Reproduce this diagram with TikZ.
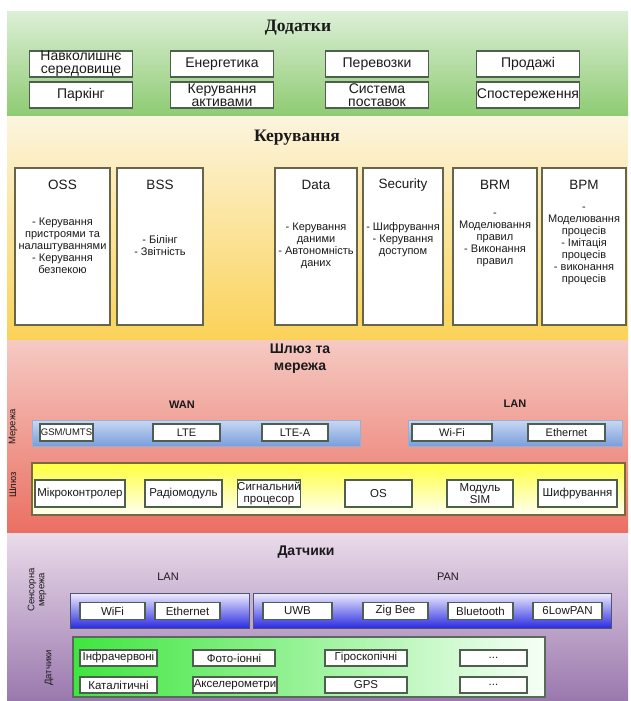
\documentclass[tikz,border=0pt]{standalone}
\usepackage{fontspec}
\setmainfont{Liberation Serif}
\setsansfont{Liberation Sans}
\definecolor{grT}{HTML}{DCEFD6}\definecolor{grB}{HTML}{8ECB72}
\definecolor{yeT}{HTML}{FCF5DE}\definecolor{yeB}{HTML}{FBD258}
\definecolor{rdT}{HTML}{F5CAC3}\definecolor{rdB}{HTML}{EB6F62}
\definecolor{puT}{HTML}{EADBEA}\definecolor{puB}{HTML}{9A78AE}
\definecolor{boxline}{HTML}{4F5F4F}
\definecolor{txt}{HTML}{1A1A1A}
\begin{document}
\begin{tikzpicture}[x=1pt,y=-1pt,
  box/.style={draw=boxline, line width=1.3pt, fill=white, inner sep=0pt, align=center, text=txt},
  appbox/.style={box, minimum width=103pt, minimum height=26pt, font=\sffamily\fontsize{14}{13}\selectfont},
  mgmtbox/.style={box, draw=boxline!80!brown, minimum height=157pt},
  mgmttitle/.style={text=txt, font=\sffamily\fontsize{13.5}{14}\selectfont},
  mgmtbody/.style={text=txt, align=center, inner sep=0pt, font=\sffamily\fontsize{11}{12}\selectfont},
  gwbox/.style={box, minimum height=27pt, font=\sffamily\fontsize{11.5}{12}\selectfont},
  netbox/.style={box, minimum height=17pt, font=\sffamily\fontsize{11}{12}\selectfont},
  senbox/.style={box, minimum height=17pt, font=\sffamily\fontsize{11.5}{12}\selectfont},
  sertitle/.style={text=txt, font=\rmfamily\bfseries\fontsize{17.5}{18}\selectfont},
  sanstitle/.style={text=txt, align=center, font=\sffamily\bfseries\fontsize{14}{17}\selectfont},
  grouplabel/.style={text=txt, font=\sffamily\bfseries\fontsize{11}{12}\selectfont},
  grouplabellight/.style={text=txt, font=\sffamily\fontsize{11}{12}\selectfont},
  sidelabel/.style={text=txt, rotate=90, align=center, font=\sffamily\fontsize{9.5}{10}\selectfont}
]
\useasboundingbox (0,0) rectangle (630,701);
\fill[white] (0,0) rectangle (630,701);

% ---------- layer bands ----------
\shade[top color=grT, bottom color=grB] (7,12) rectangle (628,116);
\shade[top color=yeT, bottom color=yeB] (7,116) rectangle (628,340);
\shade[top color=rdT, bottom color=rdB] (7,340) rectangle (628,533);
\shade[top color=puT, bottom color=puB] (7,533) rectangle (628,701);

% ---------- Додатки ----------
\node[sertitle] (tApps) at (298,28) {Додатки};
\node[appbox] (env)   at (81,64)  {Навколишнє\\середовище};
\node[appbox] (energy) at (222,64) {Енергетика};
\node[appbox] (transp) at (377,64) {Перевозки};
\node[appbox] (sales)  at (528,64) {Продажі};
\node[appbox] (park)   at (81,95)  {Паркінг};
\node[appbox] (assets) at (222,95) {Керування\\активами};
\node[appbox] (supply) at (377,95) {Система\\поставок};
\node[appbox] (watch)  at (528,95) {Спостереження};

% ---------- Керування ----------
\node[sertitle] (tMgmt) at (297,138) {Керування};
\node[mgmtbox, minimum width=95pt] (oss) at (62.5,246.5) {};
\node[mgmtbox, minimum width=86pt] (bss) at (160,246.5) {};
\node[mgmtbox, minimum width=82pt] (data) at (316,246.5) {};
\node[mgmtbox, minimum width=80pt] (sec) at (403,246.5) {};
\node[mgmtbox, minimum width=84pt] (brm) at (495,246.5) {};
\node[mgmtbox, minimum width=84pt] (bpm) at (584,246.5) {};
\node[mgmttitle] (ossT)  at (62.5,185) {OSS};
\node[mgmttitle] (bssT)  at (160,185)  {BSS};
\node[mgmttitle] (dataT) at (316,185)  {Data};
\node[mgmttitle] (secT)  at (403,185)  {Security};
\node[mgmttitle] (brmT)  at (495,185)  {BRM};
\node[mgmttitle] (bpmT)  at (584,185)  {BPM};
\node[mgmtbody] (ossB)  at (62.5,246) {- Керування\\пристроями та\\налаштуваннями\\- Керування\\безпекою};
\node[mgmtbody] (bssB)  at (160,246)  {- Білінг\\- Звітність};
\node[mgmtbody] (dataB) at (316,246)  {- Керування\\даними\\- Автономність\\даних};
\node[mgmtbody] (secB)  at (403,240)  {- Шифрування\\- Керування\\доступом};
\node[mgmtbody] (brmB)  at (495,240)  {-\\Моделювання\\правил\\- Виконання\\правил};
\node[mgmtbody] (bpmB)  at (584,246)  {-\\Моделювання\\процесів\\- Імітація\\процесів\\- виконання\\процесів};

% ---------- Шлюз та мережа ----------
\node[sanstitle] (tGw) at (300,359) {Шлюз та\\мережа};
\node[grouplabel] (wanL) at (182,405) {WAN};
\node[grouplabel] (lanL) at (515,404) {LAN};
\node[sidelabel] (netSide) at (13,427) {Мережа};
\node[sidelabel] (gwSide)  at (13,485) {Шлюз};
\shade[top color={rgb,255:red,200;green,216;blue,243}, bottom color={rgb,255:red,122;green,158;blue,220},
       draw={rgb,255:red,150;green,175;blue,215}] (32,420) rectangle (360,446);
\shade[top color={rgb,255:red,200;green,216;blue,243}, bottom color={rgb,255:red,122;green,158;blue,220},
       draw={rgb,255:red,150;green,175;blue,215}] (408,420) rectangle (622,446);
\node[netbox, minimum width=53pt, font=\sffamily\fontsize{9.5}{11}\selectfont] (gsm) at (66.5,432.5) {GSM/UMTS};
\node[netbox, minimum width=67pt] (lte)  at (186.5,432.5) {LTE};
\node[netbox, minimum width=66pt] (ltea) at (295,432.5)   {LTE-A};
\node[netbox, minimum width=80pt] (wifi) at (452,432.5)   {Wi-Fi};
\node[netbox, minimum width=77pt] (eth)  at (566.5,432.5) {Ethernet};
\shade[top color={rgb,255:red,255;green,255;blue,60}, bottom color={rgb,255:red,255;green,255;blue,244},
       draw={rgb,255:red,120;green,106;blue,60}, line width=1.2pt] (32,463) rectangle (625,515);
\node[gwbox, minimum width=90pt] (mcu)   at (80,493.5)    {Мікроконтролер};
\node[gwbox, minimum width=77pt] (radio) at (183.5,493.5) {Радіомодуль};
\node[gwbox, minimum width=58pt] (dsp)   at (269,493.5)   {Сигнальний\\процесор};
\node[gwbox, minimum width=67pt] (os)    at (378.5,493.5) {OS};
\node[gwbox, minimum width=66pt] (sim)   at (480,493.5)   {Модуль\\SIM};
\node[gwbox, minimum width=79pt] (crypt) at (577.5,493.5) {Шифрування};

% ---------- Датчики ----------
\node[sanstitle] (tSens) at (306,552) {Датчики};
\node[grouplabellight] (slan) at (168,577) {LAN};
\node[grouplabellight] (span) at (448,577) {PAN};
\node[sidelabel] (snetSide) at (37,590) {Сенсорна\\мережа};
\node[sidelabel] (sensSide) at (49,668) {Датчики};
\shade[top color={rgb,255:red,240;green,238;blue,255}, bottom color={rgb,255:red,43;green,43;blue,224},
       draw={rgb,255:red,80;green,84;blue,110}, line width=1pt] (70,593) rectangle (249,628);
\shade[top color={rgb,255:red,240;green,238;blue,255}, bottom color={rgb,255:red,43;green,43;blue,224},
       draw={rgb,255:red,80;green,84;blue,110}, line width=1pt] (253,593) rectangle (611,628);
\node[senbox, minimum width=65pt] (swifi) at (112.5,611) {WiFi};
\node[senbox, minimum width=65pt] (seth)  at (187.5,611) {Ethernet};
\node[senbox, minimum width=69pt] (uwb)   at (297.5,611) {UWB};
\node[senbox, minimum width=65pt] (zig)   at (395.5,611) {Zig Bee};
\node[senbox, minimum width=65pt] (bt)    at (480.5,611) {Bluetooth};
\node[senbox, minimum width=69pt] (lowpan) at (567.5,611) {6LowPAN};
\shade[left color={rgb,255:red,62;green,230;blue,62}, right color={rgb,255:red,246;green,255;blue,246},
       draw={rgb,255:red,90;green,106;blue,90}, line width=1.2pt] (73,637) rectangle (545,697);
\node[senbox, minimum height=16pt, minimum width=77pt] (ir)    at (118.5,658) {Інфрачервоні};
\node[senbox, minimum height=16pt, minimum width=82pt] (photo) at (234,658)   {Фото-іонні};
\node[senbox, minimum height=16pt, minimum width=82pt] (gyro)  at (366,658)   {Гіроскопічні};
\node[senbox, minimum height=16pt, minimum width=67pt] (moreA) at (493.5,658) {...};
\node[senbox, minimum height=16pt, minimum width=77pt] (cat)   at (118.5,685) {Каталітичні};
\node[senbox, minimum height=16pt, minimum width=84pt] (accel) at (235,685)   {Акселерометри};
\node[senbox, minimum height=16pt, minimum width=82pt] (gps)   at (366,685)   {GPS};
\node[senbox, minimum height=16pt, minimum width=67pt] (moreB) at (493.5,685) {...};
\end{tikzpicture}
\end{document}
